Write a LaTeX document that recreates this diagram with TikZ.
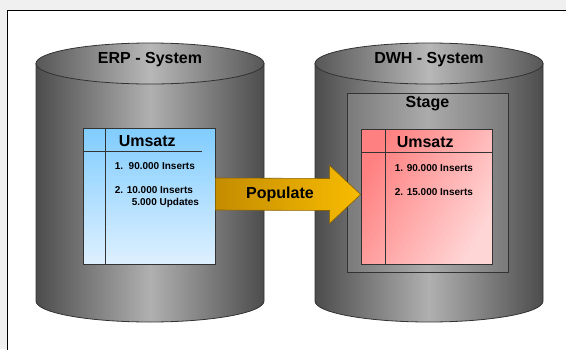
\documentclass[tikz,border=0pt]{standalone}
\usepackage{fontspec}
\setmainfont{Liberation Sans}
\usetikzlibrary{calc}

\definecolor{tabblue}{RGB}{128,204,255}
\definecolor{tabbluelt}{RGB}{222,240,255}
\definecolor{tabred}{RGB}{255,128,128}
\definecolor{tabredlt}{RGB}{255,214,214}
\definecolor{popdark}{RGB}{196,140,0}
\definecolor{poplight}{RGB}{248,188,0}
\definecolor{edge}{RGB}{51,51,51}

\tikzset{
    big/.style={font=\fontsize{16}{19}\selectfont\bfseries, inner sep=0pt},
    small/.style={font=\fontsize{10}{12}\selectfont\bfseries, inner sep=0pt, anchor=base west},
    tab/.style={draw=edge, line width=0.8pt, inner sep=0pt,
        minimum width=132pt, minimum height=136pt},
    stagebox/.style={draw=edge, line width=0.9pt, inner sep=0pt,
        left color=black!52, right color=black!52, middle color=black!33,
        minimum width=161pt, minimum height=179pt},
    edgeline/.style={draw=edge, line width=0.8pt}
}

\begin{document}
\begin{tikzpicture}[x=1pt, y=-1pt]
        \useasboundingbox (0,0) rectangle (566,349);
        \clip (0,0) rectangle (566,349);
        % frame
            \fill[black!6] (0,0) rectangle (566,349);
            \draw[fill=white, line width=1pt] (7.5,10.5) rectangle (590,370);
        % cylinders
            \foreach \cx/\v in {150/erp, 429/dwh}{
                \shadedraw[left color=black!70, right color=black!70, middle color=black!31, edgeline]
                    (\cx-114,63.5) -- (\cx-114,301)
                    arc[start angle=180, end angle=0, x radius=114, y radius=21]
                    -- (\cx+114,63.5) -- cycle;
                \shadedraw[left color=black!66, right color=black!66, middle color=black!28, edgeline]
                    (\cx,63.5) ellipse[x radius=114, y radius=20.5];
            }
            \node[big, anchor=base] (erplbl) at (150,63) {ERP - System};
            \node[big, anchor=base] (dwhlbl) at (429,63) {DWH - System};
        % stage
            \node[stagebox] (stage) at (427.5,182.5) {};
            \node[big, anchor=base] (stagelbl) at ($(stage.north)+(0,15)$) {Stage};
        % tables
            \node[tab, top color=tabblue, bottom color=tabbluelt] (erptab) at (149,196) {};
            \node[tab, minimum width=131pt, minimum height=135pt,
                left color=tabred, right color=tabredlt, shading angle=60] (dwhtab) at (426.5,196.5) {};
            \draw[edgeline] ($(erptab.north west)+(23,0)$) -- ($(erptab.south west)+(23,0)$);
            \draw[edgeline] ($(erptab.north west)+(0,24)$) -- ($(erptab.north east)+(-13,24)$);
            \draw[edgeline] ($(dwhtab.north west)+(25,0)$) -- ($(dwhtab.south west)+(25,0)$);
            \draw[edgeline] ($(dwhtab.north west)+(0,24)$) -- ($(dwhtab.north east)+(0,24)$);
            \node[big, anchor=base west] (erptitle) at ($(erptab.north west)+(36,19)$) {Umsatz};
            \node[small] (erp1) at ($(erptab.north west)+(32,42)$) {1.\ \ 90.000 Inserts};
            \node[small] (erp2) at ($(erptab.north west)+(32,66)$) {2. 10.000 Inserts};
            \node[small] (erp3) at ($(erptab.north west)+(49,78)$) {5.000 Updates};
            \node[big, anchor=base west] (dwhtitle) at ($(dwhtab.north west)+(36,19)$) {Umsatz};
            \node[small] (dwh1) at ($(dwhtab.north west)+(34,43)$) {1. 90.000 Inserts};
            \node[small] (dwh2) at ($(dwhtab.north west)+(34,67)$) {2. 15.000 Inserts};
        % populate arrow
            \shadedraw[left color=popdark, right color=poplight, draw=popdark!70!black, line width=0.6pt]
                ($(erptab.east)+(0,-18)$) -- ($(dwhtab.west)+(-31,-18)$)
                -- ($(dwhtab.west)+(-31,-31)$) -- ($(dwhtab.west)+(0,-2)$)
                -- ($(dwhtab.west)+(-31,27)$) -- ($(dwhtab.west)+(-31,14)$)
                -- ($(erptab.east)+(0,14)$) -- cycle;
            \node[big, anchor=base] (populate) at ($(erptab.east)!0.5!(dwhtab.west)+(-8,2)$) {Populate};
        \end{tikzpicture}
\end{document}
